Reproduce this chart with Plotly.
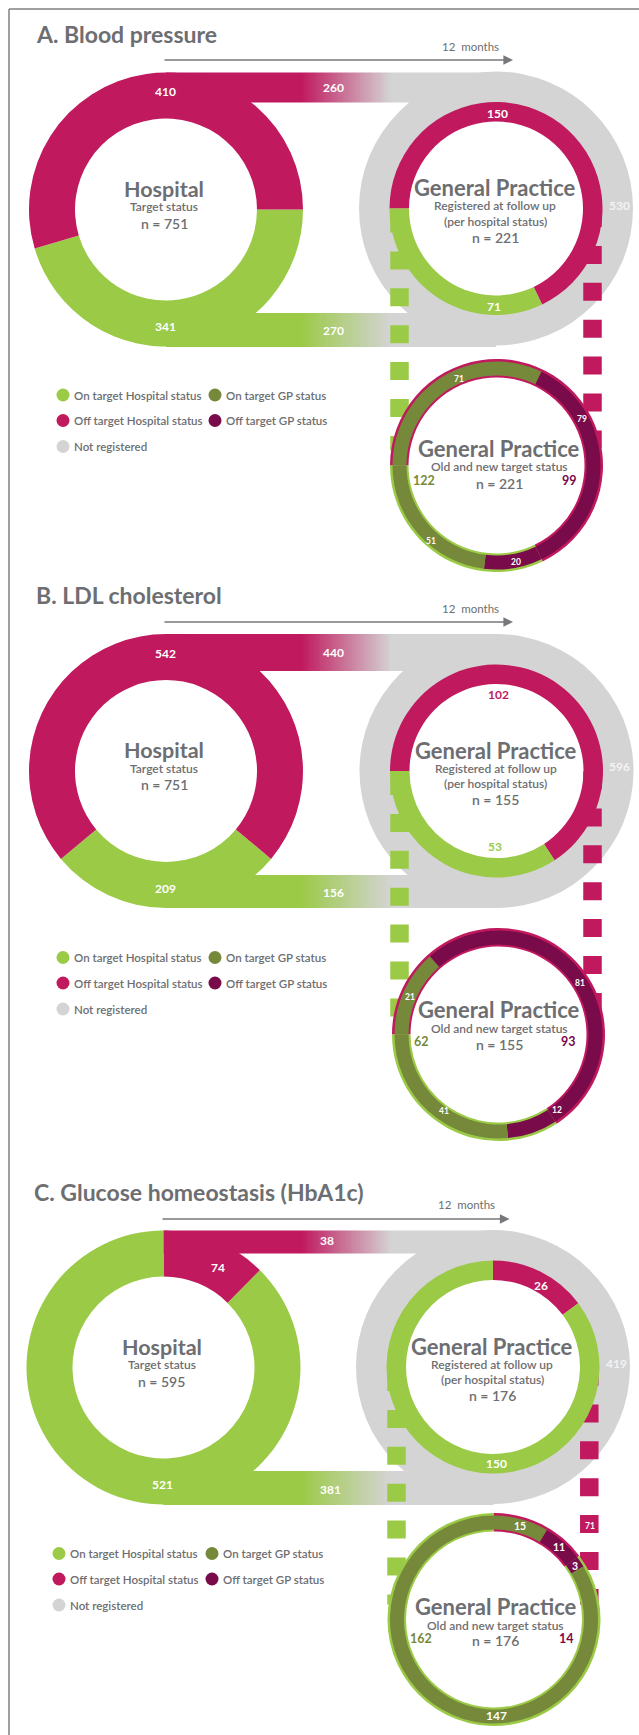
import numpy as np
import plotly.graph_objects as go

W, H = 639, 1735

# ---------------- data ----------------
section_titles = ["A. Blood pressure", "B. LDL cholesterol", "C. Glucose homeostasis (HbA1c)"]
hospital_on = [341, 209, 521]
hospital_off = [410, 542, 74]
hospital_n = [751, 751, 595]
unreg_on = [270, 156, 381]
unreg_off = [260, 440, 38]
not_registered = [530, 596, 419]
gp_on = [71, 53, 150]
gp_off = [150, 102, 26]
gp_n = [221, 155, 176]
off_to_on = [71, 21, 15]
off_to_off = [79, 81, 11]
on_to_off = [20, 12, 3]
on_to_on = [51, 41, 147]
new_on = [122, 62, 162]
new_off = [99, 93, 14]
extra_dash_label = ["", "", "71"]
legend_labels = ["On target Hospital status", "On target GP status",
                 "Off target Hospital status", "Off target GP status", "Not registered"]

# ---------------- style / layout ----------------
MAG = "#c0195e"
LIME = "#9bca47"
OLIVE = "#76883a"
PURP = "#790b4a"
GRAY = "#d4d4d4"
TXT = "#6d6e71"
FONT = "Lato"

HOSP_C = [(166, 209.5), (166, 771), (163.5, 1367.5)]
GP_C = [(496, 208.5), (496.5, 771), (493, 1367)]
LOW_C = [(496.5, 465.5), (498.5, 1034.5), (494, 1619.5)]
BAND_IN_TOP = [107.5, 100, 114]
BAND_IN_BOT = [103.5, 104, 103.5]
TITLE_POS = [(34, 34), (34, 595), (32, 1192)]
MONTHS_POS = [(470, 46), (470, 608), (466.5, 1204)]
ARROW = [(163, 513, 60), (163, 513, 622), (161, 509.5, 1219)]
GP_ROT = [-90, -90, 0]
DASH_X = [(399.5, 592.5), (399.5, 592.5), (396.5, 589.3)]
LEG_X = [(63, 215), (63, 215), (59, 212)]
LOW_TXT_X = [499, 499, 495.5]

POS = [
    dict(h_off=(165, 91), u_off=(333, 87), h_on=(165, 326), u_on=(333, 330),
         g_off=(497, 113), g_on=(494, 306), nr=(619, 205),
         o2on=(459, 379), o2off=(582, 419), on2off=(516, 562), on2on=(431, 541),
         n_on=(424, 480), n_off=(569, 480), low=(448, 466.5, 483), extra=None,
         gcol=("white", "white")),
    dict(h_off=(165, 653), u_off=(333, 652), h_on=(165, 888), u_on=(333, 892),
         g_off=(498, 694), g_on=(495, 846.5), nr=(619, 766),
         o2on=(409.5, 997), o2off=(579.5, 983), on2off=(557, 1110), on2on=(444, 1111),
         n_on=(421, 1041), n_off=(568.5, 1041), low=(1009.5, 1028, 1044), extra=None,
         gcol=(MAG, LIME)),
    dict(h_off=(218, 1267), u_off=(327, 1240), h_on=(162, 1484.5), u_on=(330, 1489),
         g_off=(541, 1285.5), g_on=(496, 1463), nr=(616, 1363.5),
         o2on=None, o2off=None, on2off=None, on2on=(496, 1715.5),
         n_on=(421, 1638), n_off=(566, 1638), low=(1606.5, 1625, 1640.5), extra=(590, 1526),
         gcol=("white", "white")),
]

R_OUT, R_HOLE_H = 137, 91
R_RING, R_RING_IN = 106.5, 87
R_LOW_IN_B, R_LOW_OUT_B = 90, 104


def dom(cx, cy, r):
    return dict(x=[(cx - r) / W, (cx + r) / W], y=[1 - (cy + r) / H, 1 - (cy - r) / H])


def slice_mid(cx, cy, rot, values, k, r=97):
    """Position at the middle of slice k of a clockwise pie starting at `rot` (deg from 12 o'clock)."""
    tot = float(sum(values))
    start = rot + 360 * sum(values[:k]) / tot
    mid = np.deg2rad(start + 180 * values[k] / tot)
    return (cx + r * np.sin(mid), cy - r * np.cos(mid))


fig = go.Figure()
shapes = []
annotations = []


def txt(x, y, s, size, color=TXT, weight=400, xanchor="center"):
    annotations.append(dict(x=x, y=y, xref="x", yref="y", text=s, showarrow=False,
                            xanchor=xanchor, yanchor="middle",
                            font=dict(family=FONT, size=size, color=color, weight=weight)))


# frame (top and left edges)
shapes.append(dict(type="line", xref="x", yref="y", x0=9, y0=9, x1=W, y1=9,
                   line=dict(color="#808080", width=1.5)))
shapes.append(dict(type="line", xref="x", yref="y", x0=9, y0=9, x1=9, y1=H,
                   line=dict(color="#808080", width=1.5)))

pies = []
for i in range(3):
    hx, hy = HOSP_C[i]
    gx, gy = GP_C[i]
    lx, ly = LOW_C[i]
    P = POS[i]

    # gray "not registered" ring (decorative background)
    shapes.append(dict(type="circle", xref="x", yref="y", layer="below",
                       x0=gx - R_OUT, x1=gx + R_OUT, y0=gy - R_OUT, y1=gy + R_OUT,
                       fillcolor=GRAY, line=dict(width=0)))
    shapes.append(dict(type="circle", xref="x", yref="y", layer="below",
                       x0=gx - 89, x1=gx + 89, y0=gy - 89, y1=gy + 89,
                       fillcolor="white", line=dict(width=0)))

    # flow bands with fade into gray
    for (y0, y1, col) in [(hy - R_OUT, hy - BAND_IN_TOP[i], MAG), (hy + BAND_IN_BOT[i], hy + R_OUT, LIME)]:
        xe = np.linspace(hx, gx, 181)
        xm = (xe[:-1] + xe[1:]) / 2
        p1 = (301 - hx) / (gx - hx)
        p2 = (391 - hx) / (gx - hx)
        fig.add_trace(go.Heatmap(x=xe, y=[y0, y1], z=[xm], zmin=hx, zmax=gx,
                                 colorscale=[[0, col], [p1, col], [p2, GRAY], [1, GRAY]],
                                 showscale=False, hoverinfo="skip", zsmooth=False))

    # dashed connectors
    gxd, mxd = DASH_X[i]
    for xc, col, ys in [(gxd, LIME, gy + 6), (mxd, MAG, gy + 0.5)]:
        fig.add_trace(go.Scatter(x=[xc, xc], y=[ys, ly - 15], mode="lines",
                                 line=dict(color=col, width=18.5, dash="18px,18.9px"),
                                 hoverinfo="skip", showlegend=False))

    # hospital ring
    if i == 0:
        vals, cols, rot = [hospital_on[i], hospital_off[i]], [LIME, MAG], 90
    elif i == 1:
        vals, cols = [hospital_on[i], hospital_off[i]], [LIME, MAG]
        rot = 180 - 180 * hospital_on[i] / hospital_n[i]
    else:
        vals, cols, rot = [hospital_off[i], hospital_on[i]], [MAG, LIME], 0
    pies.append(go.Pie(values=vals, marker=dict(colors=cols, line=dict(width=0)),
                       hole=R_HOLE_H / R_OUT, rotation=rot, direction="clockwise",
                       sort=False, textinfo="none", hoverinfo="skip", showlegend=False,
                       domain=dom(hx, hy, R_OUT)))
    # GP ring (registered, per hospital status)
    pies.append(go.Pie(values=[gp_off[i], gp_on[i]], marker=dict(colors=[MAG, LIME], line=dict(width=0)),
                       hole=R_RING_IN / R_RING, rotation=GP_ROT[i], direction="clockwise",
                       sort=False, textinfo="none", hoverinfo="skip", showlegend=False,
                       domain=dom(gx, gy, R_RING)))
    # lower ring: hospital status edge + new GP status band
    pies.append(go.Pie(values=[gp_off[i], gp_on[i]], marker=dict(colors=[MAG, LIME], line=dict(width=0)),
                       hole=88 / R_RING, rotation=GP_ROT[i], direction="clockwise",
                       sort=False, textinfo="none", hoverinfo="skip", showlegend=False,
                       domain=dom(lx, ly, R_RING)))
    new_vals = [off_to_on[i], off_to_off[i], on_to_off[i], on_to_on[i]]
    pies.append(go.Pie(values=new_vals,
                       marker=dict(colors=[OLIVE, PURP, PURP, OLIVE], line=dict(width=0)),
                       hole=R_LOW_IN_B / R_LOW_OUT_B, rotation=GP_ROT[i], direction="clockwise",
                       sort=False, textinfo="none", hoverinfo="skip", showlegend=False,
                       domain=dom(lx, ly, R_LOW_OUT_B)))

    # legend markers
    lxa, lxb = LEG_X[i]
    ry = [gy + 186.5, gy + 212, gy + 238]
    fig.add_trace(go.Scatter(x=[lxa, lxb, lxa, lxb, lxa], y=[ry[0], ry[0], ry[1], ry[1], ry[2]],
                             mode="markers", marker=dict(size=13, color=[LIME, OLIVE, MAG, PURP, GRAY],
                                                         line=dict(width=0)),
                             hoverinfo="skip", showlegend=False))
    for k, (xx, yy) in enumerate([(lxa, ry[0]), (lxb, ry[0]), (lxa, ry[1]), (lxb, ry[1]), (lxa, ry[2])]):
        txt(xx + 9, yy, legend_labels[k], 11.5, TXT, 600, "left")

    # titles, arrow
    tx, ty = TITLE_POS[i]
    txt(tx, ty, section_titles[i], 23, TXT, 700, "left")
    mx, my = MONTHS_POS[i]
    txt(mx, my, "12&nbsp;&nbsp;months", 11.5, TXT, 400)
    ax0, ax1, ayy = ARROW[i]
    annotations.append(dict(x=ax1, y=ayy, ax=ax0, ay=ayy, xref="x", yref="y", axref="x", ayref="y",
                            text="", showarrow=True, arrowhead=2, arrowsize=1.2, arrowwidth=1.6,
                            arrowcolor="#77787b"))

    # centre texts
    txt(hx - 2, hy - 21, "Hospital", 21.5, TXT, 700)
    txt(hx - 2, hy - 3, "Target status", 12, TXT, 600)
    txt(hx - 2, hy + 13.5, f"n = {hospital_n[i]}", 14, TXT, 600)
    txt(gx - 1, gy - 21, "General Practice", 22, TXT, 700)
    txt(gx - 1, gy - 3, "Registered at follow up", 12, TXT, 600)
    txt(gx - 1, gy + 12.5, "(per hospital status)", 12, TXT, 600)
    txt(gx - 1, gy + 28.5, f"n = {gp_n[i]}", 14, TXT, 600)
    lt, ls, ln = P["low"]
    txt(LOW_TXT_X[i], lt, "General Practice", 22, TXT, 700)
    txt(LOW_TXT_X[i], ls, "Old and new target status", 12, TXT, 600)
    txt(LOW_TXT_X[i], ln, f"n = {gp_n[i]}", 14, TXT, 600)

    # value labels
    txt(*P["h_off"], str(hospital_off[i]), 12, "white", 700)
    txt(*P["u_off"], str(unreg_off[i]), 12, "white", 700)
    txt(*P["h_on"], str(hospital_on[i]), 12, "white", 700)
    txt(*P["u_on"], str(unreg_on[i]), 12, "white", 700)
    txt(*P["g_off"], str(gp_off[i]), 12, P["gcol"][0], 700)
    txt(*P["g_on"], str(gp_on[i]), 12, P["gcol"][1], 700)
    txt(*P["nr"], str(not_registered[i]), 12, "#f3f3f3", 700)
    small = 8.5 if i < 2 else 10.5
    for k, key in enumerate(["o2on", "o2off", "on2off"]):
        pos = P[key] if P[key] is not None else slice_mid(lx, ly, GP_ROT[i], new_vals, k)
        txt(*pos, str(new_vals[k]), small, "white", 700)
    txt(*P["on2on"], str(on_to_on[i]), 8.5 if i < 2 else 12, "white", 700)
    txt(*P["n_on"], str(new_on[i]), 12.5, OLIVE, 700)
    txt(*P["n_off"], str(new_off[i]), 12.5, PURP, 700)
    if P["extra"]:
        txt(*P["extra"], extra_dash_label[i], 8.5, "white", 700)

for p in pies:
    fig.add_trace(p)

fig.update_layout(
    width=W, height=H, autosize=False,
    margin=dict(l=0, r=0, t=0, b=0, pad=0),
    paper_bgcolor="white", plot_bgcolor="white",
    xaxis=dict(range=[0, W], visible=False, fixedrange=True),
    yaxis=dict(range=[H, 0], visible=False, fixedrange=True),
    shapes=shapes, annotations=annotations, showlegend=False,
)
fig.write_html("out.html", config={"displayModeBar": False},
               post_script="document.body.style.margin='0';document.body.style.overflow='hidden';")
